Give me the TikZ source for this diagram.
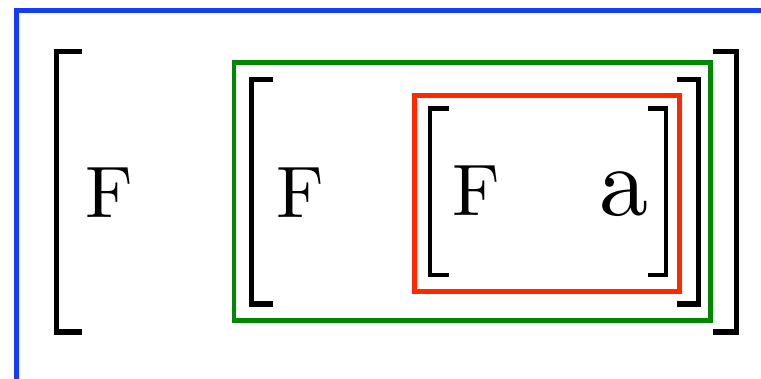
\documentclass[tikz,border=0pt]{standalone}
\usepackage{fontspec}
\newfontfamily\lmten{lmroman10-regular}[Extension=.otf]
\definecolor{frameblue}{RGB}{20,60,255}
\definecolor{framegreen}{RGB}{0,136,0}
\definecolor{framered}{RGB}{255,40,0}
\tikzset{
  brk/.style={line width=5.5pt, line cap=butt, line join=miter},
  brkin/.style={line width=4.8pt, line cap=butt, line join=miter},
  frm/.style={line width=4.8pt, line join=miter},
  lblF/.style={inner sep=0pt, anchor=base, font=\lmten\fontsize{73}{80}\selectfont},
  lbla/.style={inner sep=0pt, anchor=base, font=\lmten\fontsize{98}{110}\selectfont},
}
\begin{document}
\begin{tikzpicture}[x=1pt,y=-1pt]
\useasboundingbox (0,0) rectangle (761,378);
\clip (0,0) rectangle (761,378);
% blue frame (cut off at right and bottom)
\draw[frm, frameblue, line width=5pt] (16,380) -- (16,10) -- (763,10);
% outer brackets
\draw[brk] (82,51.5) -- (56.5,51.5) -- (56.5,332) -- (82,332);
\draw[brk] (713,51.5) -- (736.5,51.5) -- (736.5,332) -- (713,332);
\node[lblF] (F1) at (109.5,217) {F};
% green frame
\draw[frm, framegreen] (234,62.5) rectangle (710.5,320.5);
% middle brackets
\draw[brk] (273,79.5) -- (251.5,79.5) -- (251.5,304) -- (273,304);
\draw[brk] (677,79.5) -- (698.5,79.5) -- (698.5,304) -- (677,304);
\node[lblF] (F2) at (300.5,217) {F};
% red frame
\draw[frm, framered] (414.5,95.5) rectangle (679.5,291.5);
% inner brackets
\draw[brkin] (449,108.5) -- (430,108.5) -- (430,275) -- (449,275);
\draw[brkin] (648,108.5) -- (666,108.5) -- (666,275) -- (648,275);
\node[lblF] (F3) at (476.5,215) {F};
\node[lbla] (A) at (624,215) {a};
\end{tikzpicture}
\end{document}
